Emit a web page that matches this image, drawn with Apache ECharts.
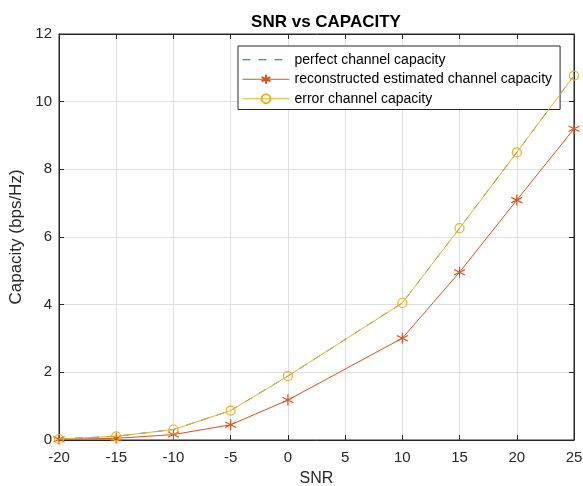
<!DOCTYPE html>
<html><head><meta charset="utf-8">
<script src="https://cdn.jsdelivr.net/npm/echarts@6/dist/echarts.min.js"></script>
<style>html,body{margin:0;padding:0;background:#fff}#c{width:583px;height:486px}</style>
</head><body><div id="c"></div>
<script>
const snr = [-20, -15, -10, -5, 0, 10, 15, 20, 25];
const perfect = [0.03, 0.11, 0.31, 0.87, 1.89, 4.05, 6.26, 8.5, 10.77];
const reconstructed = [0.02, 0.05, 0.16, 0.45, 1.18, 3.01, 4.96, 7.09, 9.2];
const errorCap = [0.03, 0.11, 0.31, 0.87, 1.89, 4.05, 6.26, 8.5, 10.77];
const xTicks = [-20, 25, 5];
const yTicks = [0, 12, 2];

const pair = (xs, ys) => xs.map((x, i) => [x, ys[i]]);
const font = 'Liberation Sans, Arial, sans-serif';
const chart = echarts.init(document.getElementById('c'));
const axCol = '#262626';
const starPath = 'path://M0,-1L0,1M-0.87,-0.5L0.87,0.5M-0.87,0.5L0.87,-0.5';
chart.setOption({
  animation: false,
  title: { text: 'SNR vs CAPACITY', left: 321, top: 9, textAlign: 'center',
    textStyle: { fontFamily: font, fontSize: 17, fontWeight: 'bold', color: '#000' } },
  grid: { left: 59, right: 9, top: 34, bottom: 46, show: true, borderColor: axCol, borderWidth: 1,
    outerBoundsMode: 'none', containLabel: false },
  legend: {
    orient: 'vertical', left: 238, top: 46,
    backgroundColor: '#fff', borderColor: axCol, borderWidth: 1,
    padding: [6, 8, 3, 4], itemGap: 4, itemWidth: 47, itemHeight: 11,
    lineStyle: { width: 1 },
    textStyle: { fontFamily: font, fontSize: 14, lineHeight: 15.5, color: '#000' },
    data: [{ name: 'perfect channel capacity', itemStyle: { color: 'transparent', borderWidth: 0, opacity: 0 } },
           'reconstructed estimated channel capacity', 'error channel capacity']
  },
  xAxis: [{
    type: 'value', min: xTicks[0], max: xTicks[1], interval: xTicks[2],
    name: 'SNR', nameLocation: 'middle', nameGap: 31,
    nameTextStyle: { fontFamily: font, fontSize: 16, color: axCol },
    axisLine: { onZero: false, lineStyle: { color: axCol } },
    axisTick: { inside: true, length: 5, lineStyle: { color: axCol } },
    axisLabel: { fontFamily: font, fontSize: 15, color: axCol, margin: 10 },
    splitLine: { show: true, lineStyle: { color: '#dfdfdf' } }
  }, {
    type: 'value', position: 'top', min: xTicks[0], max: xTicks[1], interval: xTicks[2],
    axisLine: { show: true, onZero: false, lineStyle: { color: axCol } },
    axisTick: { inside: true, length: 5, lineStyle: { color: axCol } },
    axisLabel: { show: false }, splitLine: { show: false }
  }],
  yAxis: [{
    type: 'value', min: yTicks[0], max: yTicks[1], interval: yTicks[2],
    name: 'Capacity (bps/Hz)', nameLocation: 'middle', nameGap: 31,
    nameTextStyle: { fontFamily: font, fontSize: 17, color: axCol },
    axisLine: { show: true, onZero: false, lineStyle: { color: axCol } },
    axisTick: { show: true, inside: true, length: 5, lineStyle: { color: axCol } },
    axisLabel: { fontFamily: font, fontSize: 15, color: axCol, margin: 7 },
    splitLine: { show: true, lineStyle: { color: '#dfdfdf' } }
  }, {
    type: 'value', position: 'right', min: yTicks[0], max: yTicks[1], interval: yTicks[2],
    axisLine: { show: true, onZero: false, lineStyle: { color: axCol } },
    axisTick: { show: true, inside: true, length: 5, lineStyle: { color: axCol } },
    axisLabel: { show: false }, splitLine: { show: false }
  }],
  series: [{
    name: 'perfect channel capacity', type: 'line', data: pair(snr, perfect),
    symbol: 'none', color: '#0072BD',
    lineStyle: { width: 1, type: [8, 8], color: '#0072BD' }, z: 2
  }, {
    name: 'reconstructed estimated channel capacity', type: 'line', data: pair(snr, reconstructed),
    symbol: starPath, symbolSize: 11,
    color: '#D95319',
    itemStyle: { color: 'none', borderColor: '#D95319', borderWidth: 1.2 },
    lineStyle: { width: 1, color: '#D95319' }, z: 3
  }, {
    name: 'error channel capacity', type: 'line', data: pair(snr, errorCap),
    symbol: 'circle', symbolSize: 9, color: '#EDB120',
    itemStyle: { color: 'none', borderColor: '#EDB120', borderWidth: 1.2 },
    lineStyle: { width: 1, color: '#EDB120' }, z: 4
  }]
});
</script></body></html>
